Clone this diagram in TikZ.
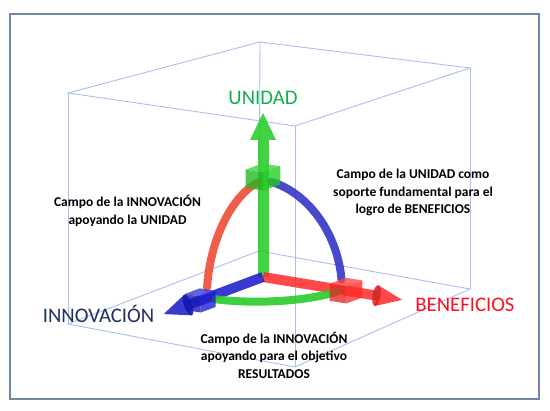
\documentclass[tikz,border=0pt]{standalone}
\usepackage{fontspec}
\setmainfont{Carlito}
\usetikzlibrary{calc}
\definecolor{edgecol}{HTML}{A9BFEF}
\definecolor{framecol}{HTML}{6F87A8}
\definecolor{axG}{HTML}{22CC22}
\definecolor{axR}{HTML}{FF2A2A}
\definecolor{axB}{HTML}{1A1ACC}
\definecolor{arcR}{HTML}{F0503C}
\definecolor{arcB}{HTML}{3A3AC8}
\definecolor{arcG}{HTML}{2ECC2E}
\definecolor{txtG}{HTML}{10B050}
\definecolor{txtB}{HTML}{1F2F60}
\definecolor{txtR}{HTML}{FF1020}
\newcommand\minicube[5]{%
  \fill[#5!88!white, fill opacity=.78] ({#1-#4},{#2-#4},{#3+#4}) -- ({#1+#4},{#2-#4},{#3+#4}) -- ({#1+#4},{#2+#4},{#3+#4}) -- ({#1-#4},{#2+#4},{#3+#4}) -- cycle;
  \fill[#5, fill opacity=.78] ({#1+#4},{#2-#4},{#3-#4}) -- ({#1+#4},{#2+#4},{#3-#4}) -- ({#1+#4},{#2+#4},{#3+#4}) -- ({#1+#4},{#2-#4},{#3+#4}) -- cycle;
  \fill[#5!90!black, fill opacity=.78] ({#1-#4},{#2+#4},{#3-#4}) -- ({#1+#4},{#2+#4},{#3-#4}) -- ({#1+#4},{#2+#4},{#3+#4}) -- ({#1-#4},{#2+#4},{#3+#4}) -- cycle;
}
\begin{document}
\begin{tikzpicture}[x=1pt,y=-1pt,
  cubeedge/.style={draw=edgecol, line width=0.9pt},
  shaft/.style={line width=#1, draw opacity=.86, line cap=butt},
  arcline/.style={line width=8pt, line cap=round, draw opacity=.92},
  headfill/.style={fill opacity=.86},
  biglabel/.style={font=\fontsize{20.7}{24}\selectfont, anchor=base, inner sep=0pt},
  smalllabel/.style={font=\fontsize{13.5}{17.5}\selectfont\bfseries, align=center, inner sep=0pt}]
\useasboundingbox (0,0) rectangle (550,411);
\fill[white] (0,0) rectangle (550,411);
\draw[framecol, line width=1.3pt] (10,14) rectangle (539,399);
% cube
\coordinate (A) at (68,93);
\coordinate (B) at (260,42);
\coordinate (C) at (470,68);
\coordinate (D) at (295,126);
\coordinate (A2) at (68,324);
\coordinate (B2) at (259,251);
\coordinate (C2) at (470,289);
\coordinate (D2) at (295,367);
\draw[cubeedge] (A) -- (B) -- (C) -- (D) -- cycle;
\draw[cubeedge] (A2) -- (B2) -- (C2) -- (D2) -- cycle;
\draw[cubeedge] (A) -- (A2);
\draw[cubeedge] (B) -- (B2);
\draw[cubeedge] (C) -- (C2);
\draw[cubeedge] (D) -- (D2);
\begin{scope}[shift={(263,277)}, x={(0.987pt,-0.162pt)}, y={(-0.937pt,-0.35pt)}, z={(0pt,1pt)}]
  \coordinate (O) at (0,0,0);
  \coordinate (baseZ) at (0,0,137);
  \coordinate (tipZ) at (0,0,164);
  \coordinate (baseX) at (115,0,0);
  \coordinate (tipX) at (141,0,0);
  \coordinate (baseY) at (0,80,0);
  \coordinate (tipY) at (0,106,0);
  % axes
  \draw[axG, shaft=11pt] (O) -- (baseZ);
  \fill[axG, headfill] ($(baseZ)!13pt!90:(tipZ)$) -- (tipZ) -- ($(baseZ)!13pt!-90:(tipZ)$) -- cycle;
  \draw[axR, shaft=10pt] (O) -- (baseX);
  \fill[axR, headfill] ($(baseX)!10.5pt!90:(tipX)$) -- (tipX) -- ($(baseX)!10.5pt!-90:(tipX)$) -- cycle;
  \fill[axR!85!black, headfill] (baseX) ellipse [x radius=4pt, y radius=10.5pt, rotate=-9.3];
  \draw[axB, shaft=10pt] (O) -- (baseY);
  \fill[axB, headfill] ($(baseY)!11pt!90:(tipY)$) -- (tipY) -- ($(baseY)!11pt!-90:(tipY)$) -- cycle;
  \fill[axB!85!black, headfill] (baseY) ellipse [x radius=4pt, y radius=11pt, rotate=20.5];
  % arcs
  \draw[arcR, arcline] plot[domain=6:84, samples=40, smooth] (0,{60*cos(\x)},{97*sin(\x)});
  \draw[arcB, arcline] plot[domain=6:84, samples=40, smooth] ({80*cos(\x)},0,{97*sin(\x)});
  \draw[arcG, arcline] plot[domain=6:85, samples=40, smooth] ({80*sin(\x)},{60*cos(\x)},0);
  % small cubes
  \minicube{0}{0}{100}{9}{axG}
  \minicube{84}{0}{0}{8.5}{axR}
  \minicube{0}{67}{0}{8}{axB}
\end{scope}
% labels
\node[biglabel, text=txtG] (lU) at (263,105) {UNIDAD};
\node[biglabel, text=txtB] (lI) at (98.5,322.5) {INNOVACIÓN};
\node[biglabel, text=txtR] (lB) at (465,312) {BENEFICIOS};
\node[smalllabel] (t1) at (127.5,211) {Campo de la INNOVACIÓN\\apoyando la UNIDAD};
\node[smalllabel] (t2) at (413,192.5) {Campo de la UNIDAD como\\soporte fundamental para el\\logro de BENEFICIOS};
\node[smalllabel] (t3) at (274,355) {Campo de la INNOVACIÓN\\apoyando para el objetivo\\RESULTADOS};
\end{tikzpicture}
\end{document}
